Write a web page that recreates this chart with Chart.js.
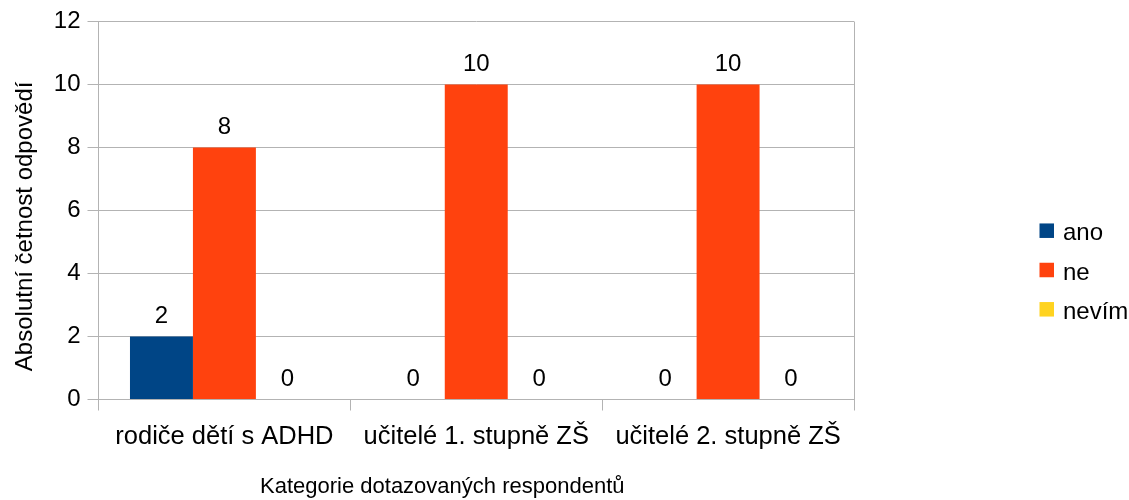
<!DOCTYPE html>
<html>
<head>
<meta charset="utf-8">
<title>Absolutní četnost odpovědí</title>
<script src="https://cdn.jsdelivr.net/npm/chart.js@4/dist/chart.umd.min.js"></script>
<style>
  html, body { margin: 0; padding: 0; background: #ffffff; }
  #wrap { width: 1129px; height: 500px; }
</style>
</head>
<body>
<div id="wrap"><canvas id="chart" width="1129" height="500"></canvas></div>
<script>
// Categories of respondents and answer counts per series
const categories = ['rodiče dětí s ADHD', 'učitelé 1. stupně ZŠ', 'učitelé 2. stupně ZŠ'];
const seriesNames = ['ano', 'ne', 'nevím'];
const anoValues = [2, 0, 0];
const neValues = [8, 10, 10];
const nevimValues = [0, 0, 0];
const yTicks = [0, 2, 4, 6, 8, 10, 12];

const xTitle = 'Kategorie dotazovaných respondentů';
const yTitle = 'Absolutní četnost odpovědí';

const FONT = '"Liberation Sans", Arial, sans-serif';
const GRID = '#b3b3b3';
const COLORS = ['#004586', '#ff420e', '#ffd320'];

// Value labels above each bar
const valueLabels = {
  id: 'valueLabels',
  afterDatasetsDraw(chart) {
    const ctx = chart.ctx;
    ctx.save();
    ctx.font = '24px ' + FONT;
    ctx.fillStyle = '#000000';
    ctx.textAlign = 'center';
    ctx.textBaseline = 'alphabetic';
    chart.data.datasets.forEach((ds, i) => {
      chart.getDatasetMeta(i).data.forEach((bar, j) => {
        ctx.fillText(String(ds.data[j]), bar.x, bar.y - 13.5);
      });
    });
    ctx.restore();
  }
};

// Right edge of the plot frame
const plotFrame = {
  id: 'plotFrame',
  beforeDatasetsDraw(chart) {
    const { ctx, chartArea } = chart;
    ctx.save();
    ctx.strokeStyle = GRID;
    ctx.lineWidth = 1;
    const x = Math.round(chartArea.right) + 0.5;
    ctx.beginPath();
    ctx.moveTo(x, chartArea.top);
    ctx.lineTo(x, chartArea.bottom);
    ctx.stroke();
    ctx.restore();
  }
};

// Axis titles, placed relative to the plot area
const axisTitles = {
  id: 'axisTitles',
  afterDraw(chart) {
    const { ctx, chartArea } = chart;
    ctx.save();
    ctx.fillStyle = '#000000';
    ctx.textAlign = 'center';
    ctx.textBaseline = 'alphabetic';

    ctx.font = '22px ' + FONT;
    ctx.fillText(xTitle, chartArea.left + chartArea.width * 0.455, chart.height - 6.7);

    ctx.font = '24px ' + FONT;
    ctx.translate(31.7, chartArea.top + chartArea.height * 0.542);
    ctx.rotate(-Math.PI / 2);
    ctx.fillText(yTitle, 0, 0);
    ctx.restore();
  }
};

// Legend block to the right of the plot
const sideLegend = {
  id: 'sideLegend',
  afterDraw(chart) {
    const { ctx, chartArea } = chart;
    const box = 14.5;
    const rowGap = 39.3;
    const left = chartArea.right + 185.5;
    const n = chart.data.datasets.length;
    const midY = chart.height * 0.54;
    ctx.save();
    ctx.font = '24px ' + FONT;
    ctx.textAlign = 'left';
    ctx.textBaseline = 'alphabetic';
    chart.data.datasets.forEach((ds, i) => {
      const cy = midY + (i - (n - 1) / 2) * rowGap;
      ctx.fillStyle = ds.backgroundColor;
      ctx.fillRect(left, cy - box / 2, box, box);
      ctx.fillStyle = '#000000';
      ctx.fillText(ds.label, left + 23.5, cy + 9.5);
    });
    ctx.restore();
  }
};

const seriesData = [anoValues, neValues, nevimValues];

new Chart(document.getElementById('chart'), {
  type: 'bar',
  data: {
    labels: categories,
    datasets: seriesNames.map((name, i) => ({
      label: name,
      data: seriesData[i],
      backgroundColor: COLORS[i],
      borderWidth: 0,
      categoryPercentage: 0.75,
      barPercentage: 1.0
    }))
  },
  options: {
    responsive: false,
    animation: false,
    devicePixelRatio: 1,
    layout: { padding: { top: 21.5, right: 275, bottom: 0, left: 0 } },
    plugins: {
      legend: { display: false },
      tooltip: { enabled: false }
    },
    scales: {
      x: {
        offset: true,
        grid: {
          display: true,
          offset: true,
          drawOnChartArea: false,
          drawTicks: true,
          tickLength: 11,
          color: GRID
        },
        border: { display: true, color: GRID },
        ticks: {
          color: '#000000',
          font: { family: FONT, size: 25.5 },
          padding: 11,
          maxRotation: 0,
          autoSkip: false
        },
        title: { display: false, text: xTitle },
        afterFit(scale) { scale.height = 100.5; }
      },
      y: {
        min: 0,
        max: 12,
        afterBuildTicks(scale) { scale.ticks = yTicks.map(v => ({ value: v })); },
        grid: {
          color: GRID,
          drawTicks: true,
          tickLength: 11
        },
        border: { display: true, color: GRID },
        ticks: {
          color: '#000000',
          font: { family: FONT, size: 24 },
          padding: 7
        },
        title: { display: false, text: yTitle },
        afterFit(scale) { scale.width = 98.5; }
      }
    }
  },
  plugins: [plotFrame, valueLabels, axisTitles, sideLegend]
});
</script>
</body>
</html>
